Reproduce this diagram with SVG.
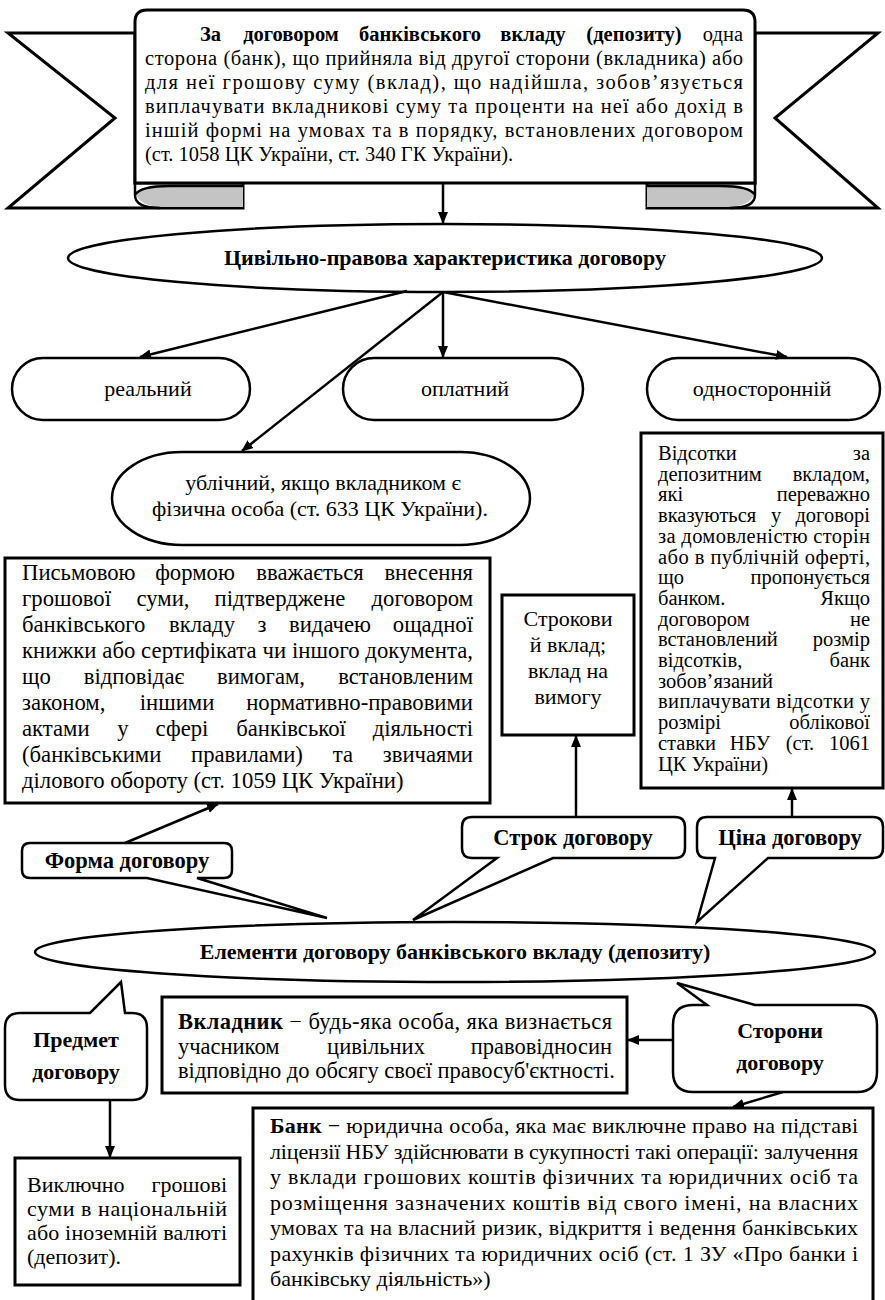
<svg xmlns="http://www.w3.org/2000/svg" width="885" height="1300" viewBox="0 0 885 1300" font-family="'Liberation Serif', 'Times New Roman', serif">
<defs>
<marker id="ah" markerUnits="userSpaceOnUse" markerWidth="12" markerHeight="10" refX="11" refY="5" orient="auto"><path d="M0,0 L12,5 L0,10 Z" fill="#000"/></marker>
<style>
text{font-family:'Liberation Serif','Times New Roman',serif;font-size:22px;fill:#000}
.b{font-weight:bold}
.f20{font-size:20.5px}
.f22{font-size:22px}
.f225{font-size:22.5px}
.f227{font-size:22.7px}
.m{text-anchor:middle}
.e{text-anchor:end}
.sh{fill:#fff;stroke:#000;stroke-width:3}
.sh2{fill:#fff;stroke:#000;stroke-width:2.5}
.ln{fill:none;stroke:#000;stroke-width:2.5}
.cn{fill:none;stroke:#000;stroke-width:2.5;marker-end:url(#ah)}
.gray{fill:#c4c4c4;stroke:none}
</style>
</defs>
<rect width="885" height="1300" fill="#fff"/>

<g id="definition">
<polygon class="sh" points="135,33 8,33 115,118 8,208 243,208 243,183 135,183"/>
<polygon class="sh" points="755,33 878,33 775,118 878,208 647,208 647,183 755,183"/>
<path class="sh" d="M135,183 V22 Q135,10 147,10 H743 Q755,10 755,22 V183 Z"/>
<path class="gray" d="M136,194 Q140,186 170,186 H243 V207 H165 Q140,207 136,194 Z"/>
<path class="ln" d="M135,183 V195 Q135,208 160,208 M135,195 Q140,186 170,186 H243"/>
<path class="gray" d="M754,194 Q750,186 720,186 H647 V207 H725 Q750,207 754,194 Z"/>
<path class="ln" d="M755,183 V195 Q755,208 730,208 M755,195 Q750,186 720,186 H647"/>
<text class="f20 b" x="200" y="41">За</text>
<text class="f20 b m" x="291" y="41">договором</text>
<text class="f20 b m" x="420" y="41">банківського</text>
<text class="f20 b m" x="533" y="41">вкладу</text>
<text class="f20 b m" x="634" y="41">(депозиту)</text>
<text class="f20 e" x="743" y="41">одна</text>
<text class="f20" x="145" y="65" textLength="598" lengthAdjust="spacing">сторона (банк), що прийняла від другої сторони (вкладника) або</text>
<text class="f20" x="145" y="89" textLength="598" lengthAdjust="spacing">для неї грошову суму (вклад), що надійшла, зобов’язується</text>
<text class="f20" x="145" y="113" textLength="598" lengthAdjust="spacing">виплачувати вкладникові суму та проценти на неї або дохід в</text>
<text class="f20" x="145" y="137" textLength="598" lengthAdjust="spacing">іншій формі на умовах та в порядку, встановлених договором</text>
<text class="f20" x="145" y="161">(ст. 1058 ЦК України, ст. 340 ГК України).</text>
</g>

<g id="characteristic">
<ellipse class="sh2" cx="445" cy="258" rx="377" ry="34"/>
<text class="f22 b m" x="445" y="265">Цивільно-правова характеристика договору</text>
</g>

<g id="real">
<rect class="sh2" x="12" y="358" width="238" height="62" rx="31" ry="31"/>
<text class="f22 m" x="148" y="396">реальний</text>
</g>
<g id="paid">
<rect class="sh2" x="343" y="358" width="240" height="62" rx="31" ry="31"/>
<text class="f22 m" x="465" y="396">оплатний</text>
</g>
<g id="unilateral">
<rect class="sh2" x="647" y="358" width="233" height="62" rx="31" ry="31"/>
<text class="f22 m" x="762" y="396">односторонній</text>
</g>

<g id="public">
<rect class="sh2" x="112" y="452" width="418" height="93" rx="70" ry="46.5"/>
<text class="m" x="323" y="490">ублічний, якщо вкладником є</text>
<text class="m" x="320" y="516">фізична особа (ст. 633 ЦК України).</text>
</g>

<g id="form-text">
<rect class="sh" x="5" y="558" width="485" height="245"/>
<text class="f227" x="22" y="580">Письмовою</text><text class="f227 m" x="195" y="580">формою</text><text class="f227 m" x="310" y="580">вважається</text><text class="f227 e" x="473" y="580">внесення</text>
<text class="f227" x="22" y="606">грошової</text><text class="f227 m" x="163" y="606">суми,</text><text class="f227 m" x="280" y="606">підтверджене</text><text class="f227 e" x="473" y="606">договором</text>
<text class="f227" x="22" y="632">банківського</text><text class="f227 m" x="202" y="632">вкладу</text><text class="f227 m" x="262" y="632">з</text><text class="f227 m" x="330" y="632">видачею</text><text class="f227 e" x="473" y="632">ощадної</text>
<text class="f227" x="22" y="658" textLength="451" lengthAdjust="spacing">книжки або сертифіката чи іншого документа,</text>
<text class="f227" x="22" y="684">що</text><text class="f227 m" x="134" y="684">відповідає</text><text class="f227 m" x="261" y="684">вимогам,</text><text class="f227 e" x="473" y="684">встановленим</text>
<text class="f227" x="22" y="710">законом,</text><text class="f227 m" x="177" y="710">іншими</text><text class="f227 e" x="473" y="710">нормативно-правовими</text>
<text class="f227" x="22" y="736">актами</text><text class="f227 m" x="123" y="736">у</text><text class="f227 m" x="182" y="736">сфері</text><text class="f227 m" x="291" y="736">банківської</text><text class="f227 e" x="473" y="736">діяльності</text>
<text class="f227" x="22" y="762">(банківськими</text><text class="f227 m" x="247" y="762">правилами)</text><text class="f227 m" x="343" y="762">та</text><text class="f227 e" x="473" y="762">звичаями</text>
<text class="f227" x="22" y="788">ділового обороту (ст. 1059 ЦК України)</text>
</g>

<g id="term-text">
<rect class="sh" x="502" y="595" width="132" height="140"/>
<text class="m" x="568" y="626">Строкови</text>
<text class="m" x="568" y="652">й вклад;</text>
<text class="m" x="568" y="678">вклад на</text>
<text class="m" x="568" y="704">вимогу</text>
</g>

<g id="price-text">
<rect class="sh" x="641" y="433" width="242" height="355"/>
<text class="f20" x="658" y="460">Відсотки</text><text class="f20 e" x="870" y="460">за</text>
<text class="f20" x="658" y="480.7">депозитним</text><text class="f20 e" x="870" y="480.7">вкладом,</text>
<text class="f20" x="658" y="501.4">які</text><text class="f20 e" x="870" y="501.4">переважно</text>
<text class="f20" x="658" y="522.1">вказуються</text><text class="f20 m" x="776" y="522.1">у</text><text class="f20 e" x="870" y="522.1">договорі</text>
<text class="f20" x="658" y="542.8" textLength="212" lengthAdjust="spacing">за домовленістю сторін</text>
<text class="f20" x="658" y="563.5" textLength="212" lengthAdjust="spacing">або в публічній оферті,</text>
<text class="f20" x="658" y="584.2">що</text><text class="f20 e" x="870" y="584.2">пропонується</text>
<text class="f20" x="658" y="604.9">банком.</text><text class="f20 e" x="870" y="604.9">Якщо</text>
<text class="f20" x="658" y="625.6">договором</text><text class="f20 e" x="870" y="625.6">не</text>
<text class="f20" x="658" y="646.3">встановлений</text><text class="f20 e" x="870" y="646.3">розмір</text>
<text class="f20" x="658" y="667">відсотків,</text><text class="f20 e" x="870" y="667">банк</text>
<text class="f20" x="658" y="687.7">зобов’язаний</text>
<text class="f20" x="658" y="708.4" textLength="212" lengthAdjust="spacing">виплачувати відсотки у</text>
<text class="f20" x="658" y="729.1">розмірі</text><text class="f20 e" x="870" y="729.1">облікової</text>
<text class="f20" x="658" y="749.8">ставки</text><text class="f20 m" x="750" y="749.8">НБУ</text><text class="f20 m" x="800" y="749.8">(ст.</text><text class="f20 e" x="870" y="749.8">1061</text>
<text class="f20" x="658" y="770.5">ЦК України)</text>
</g>

<g id="form">
<path class="sh2" d="M30,843 H224 Q232,843 232,851 V870 Q232,878 224,878 H197 L327,918 L147,878 H30 Q22,878 22,870 V851 Q22,843 30,843 Z"/>
<text class="f225 b m" x="127" y="868">Форма договору</text>
</g>
<g id="term">
<path class="sh2" d="M472,817 H675 Q685,817 685,827 V848 Q685,858 675,858 H553 L413,920 L497,858 H472 Q462,858 462,848 V827 Q462,817 472,817 Z"/>
<text class="f225 b m" x="573" y="845">Строк договору</text>
</g>
<g id="price">
<path class="sh2" d="M707,817 H873 Q883,817 883,827 V848 Q883,858 873,858 H768 L697,922 L715,858 H707 Q697,858 697,848 V827 Q697,817 707,817 Z"/>
<text class="f225 b m" x="790" y="845">Ціна договору</text>
</g>

<g id="elements">
<ellipse class="sh2" cx="455" cy="952" rx="420" ry="30"/>
<text class="f22 b m" x="455" y="959">Елементи договору банківського вкладу (депозиту)</text>
</g>

<g id="subject">
<path class="sh2" d="M20,1013 H90 L121,982 L125,1013 H132 Q147,1013 147,1028 V1085 Q147,1100 132,1100 H20 Q5,1100 5,1085 V1028 Q5,1013 20,1013 Z"/>
<text class="f22 b m" x="76" y="1047">Предмет</text>
<text class="f22 b m" x="76" y="1079">договору</text>
</g>
<g id="parties">
<path class="sh2" d="M693,1005 H707 L677,983 L755,1005 H857 Q877,1005 877,1025 V1072 Q877,1092 857,1092 H693 Q673,1092 673,1072 V1025 Q673,1005 693,1005 Z"/>
<text class="f22 b m" x="780" y="1038">Сторони</text>
<text class="f22 b m" x="780" y="1070">договору</text>
</g>

<g id="depositor">
<rect class="sh" x="162" y="997" width="465" height="96"/>
<text class="f225" x="178" y="1029" textLength="434" lengthAdjust="spacing"><tspan class="b">Вкладник</tspan> − будь-яка особа, яка визнається</text>
<text class="f225" x="178" y="1054">учасником</text><text class="f225 m" x="376" y="1054">цивільних</text><text class="f225 e" x="612" y="1054">правовідносин</text>
<text class="f225" x="178" y="1078">відповідно до обсягу своєї правосуб'єктності.</text>
</g>

<g id="bank">
<rect class="sh" x="253" y="1108" width="620" height="210"/>
<text x="270" y="1133" textLength="588" lengthAdjust="spacing"><tspan class="b">Банк</tspan> − юридична особа, яка має виключне право на підставі</text>
<text x="270" y="1158.5" textLength="588" lengthAdjust="spacing">ліцензії НБУ здійснювати в сукупності такі операції: залучення</text>
<text x="270" y="1184" textLength="588" lengthAdjust="spacing">у вклади грошових коштів фізичних та юридичних осіб та</text>
<text x="270" y="1209.5" textLength="588" lengthAdjust="spacing">розміщення зазначених коштів від свого імені, на власних</text>
<text x="270" y="1235" textLength="588" lengthAdjust="spacing">умовах та на власний ризик, відкриття і ведення банківських</text>
<text x="270" y="1260.5" textLength="588" lengthAdjust="spacing">рахунків фізичних та юридичних осіб (ст. 1 ЗУ «Про банки і</text>
<text x="270" y="1286">банківську діяльність»)</text>
</g>

<g id="subject-text">
<rect class="sh" x="15" y="1158" width="225" height="127"/>
<text x="27" y="1192">Виключно</text><text class="e" x="227" y="1192">грошові</text>
<text x="27" y="1216" textLength="200" lengthAdjust="spacing">суми в національній</text>
<text x="27" y="1240" textLength="200" lengthAdjust="spacing">або іноземній валюті</text>
<text x="27" y="1264">(депозит).</text>
</g>

<g id="connectors">
<line class="cn" x1="443" y1="183" x2="443" y2="223"/>
<line class="cn" x1="407" y1="291" x2="140" y2="357"/>
<line class="cn" x1="443" y1="292" x2="443" y2="357"/>
<line class="cn" x1="443" y1="292" x2="787" y2="357"/>
<line class="cn" x1="443" y1="292" x2="242" y2="451"/>
<line class="cn" x1="125" y1="843" x2="218" y2="804"/>
<line class="cn" x1="576" y1="817" x2="576" y2="736"/>
<line class="cn" x1="792" y1="817" x2="792" y2="789"/>
<line class="cn" x1="673" y1="1040" x2="628" y2="1040"/>
<line class="cn" x1="783" y1="1092" x2="733" y2="1107"/>
<line class="cn" x1="110" y1="1100" x2="110" y2="1157"/>
</g>
</svg>
